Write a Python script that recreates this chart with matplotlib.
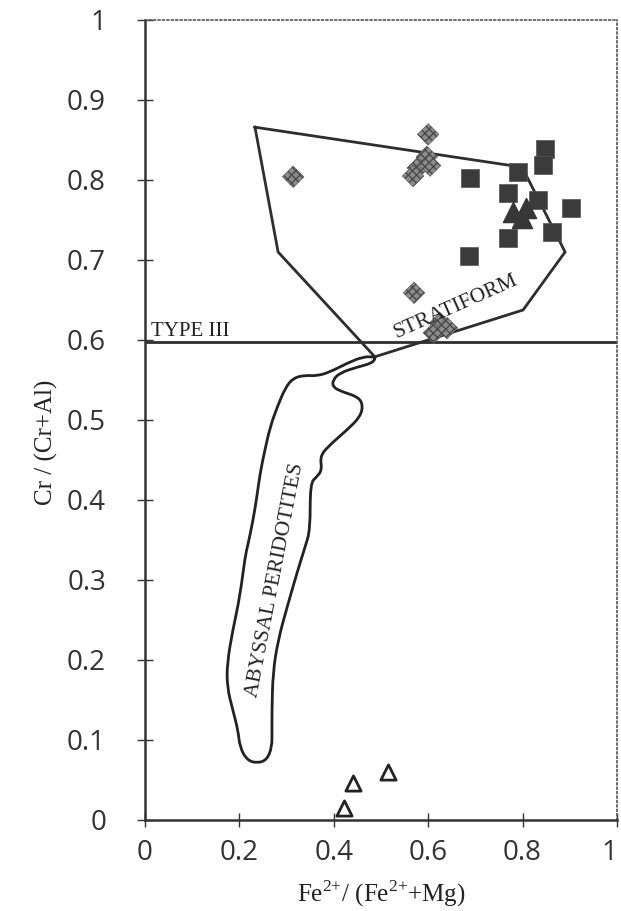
import numpy as np
import matplotlib
matplotlib.use('Agg')
import matplotlib.pyplot as plt
from matplotlib.path import Path
from matplotlib.patches import PathPatch

# stratiform field (polygon) and type III line
strat_x = [0.233, 0.799, 0.890, 0.801, 0.487, 0.282, 0.233]
strat_y = [0.866, 0.816, 0.710, 0.6375, 0.579, 0.710, 0.866]
type3_y = 0.598

# abyssal peridotites outline (closed, traced points)
aby_x = [0.483, 0.462, 0.428, 0.392, 0.364, 0.339, 0.314, 0.297, 0.280, 0.265,
         0.254, 0.244, 0.237, 0.229, 0.218, 0.212, 0.201, 0.186, 0.174, 0.174,
         0.186, 0.197, 0.201, 0.216, 0.237, 0.258, 0.269, 0.269, 0.269, 0.271,
         0.282, 0.301, 0.322, 0.339, 0.350, 0.350, 0.364, 0.375, 0.371, 0.386,
         0.428, 0.456, 0.462, 0.451, 0.419, 0.398, 0.398, 0.413, 0.449, 0.481,
         0.489]
aby_y = [0.579, 0.579, 0.571, 0.560, 0.555, 0.556, 0.5525, 0.540, 0.516, 0.491,
         0.4625, 0.434, 0.404, 0.375, 0.344, 0.329, 0.279, 0.2375, 0.196, 0.166,
         0.1375, 0.1125, 0.091, 0.075, 0.071, 0.075, 0.091, 0.1125, 0.1375, 0.184,
         0.225, 0.266, 0.309, 0.341, 0.3625, 0.421, 0.429, 0.4375, 0.454, 0.466,
         0.4875, 0.504, 0.519, 0.529, 0.535, 0.541, 0.550, 0.559, 0.566, 0.571,
         0.578]

# samples
dia_x = [0.600, 0.597, 0.578, 0.568, 0.604, 0.314, 0.570, 0.625, 0.612, 0.640]
dia_y = [0.857, 0.829, 0.815, 0.805, 0.818, 0.804, 0.659, 0.621, 0.609, 0.615]
sq_x = [0.847, 0.843, 0.790, 0.689, 0.769, 0.833, 0.903, 0.862, 0.769, 0.686]
sq_y = [0.839, 0.819, 0.810, 0.8025, 0.784, 0.775, 0.765, 0.735, 0.7275, 0.705]
tri_x = [0.780, 0.808, 0.798]
tri_y = [0.760, 0.765, 0.752]
otri_x = [0.441, 0.515, 0.422]
otri_y = [0.046, 0.060, 0.015]

xticks = [0, 0.2, 0.4, 0.6, 0.8, 1]
xticklabels = ['0', '0.2', '0.4', '0.6', '0.8', '1']
yticks = [0, 0.1, 0.2, 0.3, 0.4, 0.5, 0.6, 0.7, 0.8, 0.9, 1]
yticklabels = ['0', '0.1', '0.2', '0.3', '0.4', '0.5', '0.6', '0.7', '0.8', '0.9', '1']

serif = 'Liberation Serif'
plt.rcParams['mathtext.fontset'] = 'custom'
plt.rcParams['mathtext.rm'] = serif

fig = plt.figure(figsize=(6.21, 9.11), dpi=100)
ax = fig.add_axes([145 / 621, 91 / 911, 472 / 621, 800 / 911])

ax.plot(strat_x, strat_y, color='#2e2e2e', lw=2.0, solid_joinstyle='miter', zorder=2)
ax.axhline(type3_y, color='#2e2e2e', lw=2.0, zorder=2)

# smooth closed outline: traced points used as quadratic bezier control points
pts = np.column_stack([aby_x, aby_y])
n = len(pts)
mids = (pts + np.roll(pts, -1, axis=0)) / 2
verts = [mids[-1]]
codes = [Path.MOVETO]
for i in range(n):
    verts += [pts[i], mids[i]]
    codes += [Path.CURVE3, Path.CURVE3]
ax.add_patch(PathPatch(Path(verts, codes), facecolor='none', edgecolor='#222222',
                       lw=2.0, zorder=2))

ax.scatter(dia_x, dia_y, marker='D', s=120, facecolor='#8c8c8c', edgecolor='#4a4a4a',
           hatch='xxxx', linewidth=0.4, zorder=3)
ax.scatter(sq_x, sq_y, marker='s', s=175, facecolor='#3b3b3b', edgecolor='#555555',
           linewidth=0.5, zorder=3)
ax.scatter(tri_x, tri_y, marker='^', s=210, facecolor='#373737', edgecolor='#373737',
           zorder=4)
ax.scatter(otri_x, otri_y, marker='^', s=120, facecolor='white', edgecolor='#222222',
           linewidth=2, zorder=4)

ax.text(0.012, type3_y + 0.001, 'TYPE III', family=serif, fontsize=15,
        ha='left', va='bottom', color='#222222')
ax.text(0.658, 0.641, 'STRATIFORM', family=serif, fontsize=15.5, rotation=24,
        ha='center', va='center', rotation_mode='anchor', color='#222222')
ax.text(0.277, 0.300, 'ABYSSAL PERIDOTITES', family=serif, fontsize=15.5, rotation=79,
        ha='center', va='center', rotation_mode='anchor', color='#222222')

ax.set_xlim(0, 1)
ax.set_ylim(0, 1)
ax.set_xticks(xticks)
ax.set_xticklabels(xticklabels)
ax.set_yticks(yticks)
ax.set_yticklabels(yticklabels)
ax.tick_params(axis='y', direction='inout', length=12, width=1, pad=22,
               labelsize=20, labelcolor='#333333', color='#333333')
ax.tick_params(axis='x', direction='inout', length=10, width=1, pad=9,
               labelsize=20, labelcolor='#333333', color='#333333')
for lab in ax.get_xticklabels() + ax.get_yticklabels():
    lab.set_family('Open Sans')
ax.get_xticklabels()[-1].set_horizontalalignment('right')

ax.spines['left'].set_linewidth(1.8)
ax.spines['left'].set_color('#333333')
ax.spines['bottom'].set_linewidth(1.8)
ax.spines['bottom'].set_color('#333333')
for side in ['top', 'right']:
    ax.spines[side].set_linestyle(':')
    ax.spines[side].set_linewidth(1.2)
    ax.spines[side].set_color('#555555')

fig.text(46 / 621, 1 - 442 / 911, 'Cr / (Cr+Al)', family=serif, fontsize=18,
         rotation=90, ha='center', va='center', color='#222222')
fig.text(381 / 621, 1 - 894 / 911, r'Fe$^{2{+}}$/ (Fe$^{2{+}}$+Mg)', family=serif,
         fontsize=18, ha='center', va='center', color='#222222')

fig.savefig('out.png', dpi=100)
